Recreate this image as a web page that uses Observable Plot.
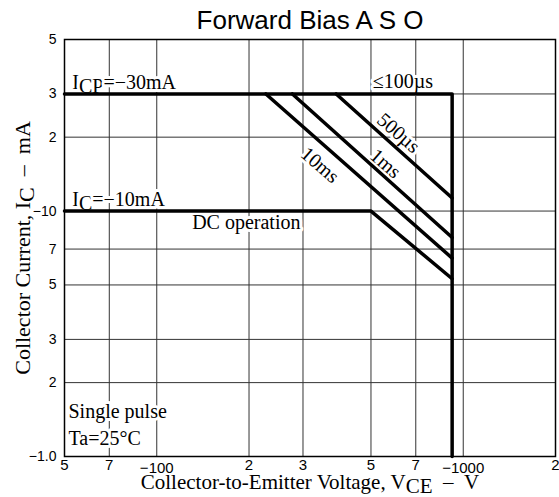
<!DOCTYPE html>
<html><head><meta charset="utf-8">
<script src="https://cdn.jsdelivr.net/npm/d3@7"></script>
<script src="https://cdn.jsdelivr.net/npm/@observablehq/plot@0.6"></script>
<style>body{margin:0;background:#fff}</style>
</head><body><div id="chart"></div>
<script>
// Axis ticks (V and mA magnitudes) and their printed labels
const xTicks = [50, 70, 100, 200, 300, 500, 700, 1000, 2000];
const xTickLabels = ["5", "7", "−100", "2", "3", "5", "7", "−1000", "2"];
const yTicks = [1, 2, 3, 5, 7, 10, 20, 30, 50];
const yTickLabels = ["−1.0", "2", "3", "5", "7", "−10", "2", "3", "5"];
const xGrid = [70, 100, 200, 300, 500, 700, 1000];
const yGrid = [2, 3, 5, 7, 10, 20, 30];

// Boundary curves: |VCE| (V) and |IC| (mA)
const voltsPulseLimit = [50, 920, 920];
const ampsPulseLimit = [30, 30, 1];
const voltsDC = [50, 500, 920];
const ampsDC = [10, 10, 5.3];
const volts10ms = [227, 920];
const amps10ms = [30, 6.43];
const volts1ms = [277, 920];
const amps1ms = [30, 7.8];
const volts500us = [385, 920];
const amps500us = [30, 11.3];

// Curve labels (text, V, mA)
const curveLabels = ["500µs", "1ms", "10ms"];
const curveLabelVolts = [615, 558, 341];
const curveLabelAmps = [20.8, 15.6, 15.4];

const toRows = (name, vs, as) => vs.map((v, i) => ({series: name, v, a: as[i]}));
const rows = [
  ...toRows("pulse", voltsPulseLimit, ampsPulseLimit),
  ...toRows("dc", voltsDC, ampsDC),
  ...toRows("10ms", volts10ms, amps10ms),
  ...toRows("1ms", volts1ms, amps1ms),
  ...toRows("500us", volts500us, amps500us)
];
const labelRows = curveLabels.map((t, i) => ({t, v: curveLabelVolts[i], a: curveLabelAmps[i]}));
const xLabelRows = xTicks.map((v, i) => ({v, t: xTickLabels[i], major: xTickLabels[i].startsWith("−")}));

const serif = "'Liberation Serif', 'Times New Roman', serif";
const sans = "'Liberation Sans', Arial, sans-serif";
const halo = {stroke: "white", strokeWidth: 6, paintOrder: "stroke", fill: "black"};

const chart = Plot.plot({
  width: 559, height: 497,
  marginLeft: 64, marginRight: 4, marginTop: 39, marginBottom: 41,
  x: {type: "log", domain: [50, 2000], axis: null},
  y: {type: "log", domain: [1, 50]},
  style: {fontFamily: sans, fontSize: "14px", background: "white", color: "black", overflow: "visible"},
  marks: [
    Plot.ruleX(xGrid, {stroke: "#333", strokeWidth: 1}),
    Plot.ruleY(yGrid, {stroke: "#333", strokeWidth: 1}),
    Plot.text(["I_{CP}=−30mA"], {x: 53, y: 30, textAnchor: "start", lineAnchor: "bottom", dy: -5, fontFamily: serif, fontSize: 20, ...halo}),
    Plot.text(["I_{C}=−10mA"], {x: 53, y: 10, textAnchor: "start", lineAnchor: "bottom", dy: -5, fontFamily: serif, fontSize: 20, ...halo}),
    Plot.text(["DC operation"], {x: 196, y: 10, textAnchor: "middle", lineAnchor: "top", dy: 4, fontFamily: serif, fontSize: 20, ...halo}),
    Plot.text(["≤100µs"], {x: 635, y: 30, textAnchor: "middle", lineAnchor: "bottom", dy: -6, fontFamily: serif, fontSize: 20, ...halo}),
    Plot.text(labelRows, {x: "v", y: "a", text: "t", rotate: 41, textAnchor: "middle", lineAnchor: "middle", fontFamily: serif, fontSize: 20, ...halo}),
    Plot.text(["Single pulse\nTa=25°C"], {frameAnchor: "bottom-left", dx: 4, dy: -12, textAnchor: "start", lineAnchor: "bottom", lineHeight: 1.35, fontFamily: serif, fontSize: 20, ...halo}),
    Plot.frame({stroke: "black", strokeWidth: 1.5}),
    Plot.line(rows, {x: "v", y: "a", z: "series", stroke: "black", strokeWidth: 3.5}),
    // x tick labels (the decade labels sit a little lower, as in the reference)
    Plot.text(xLabelRows, {filter: d => !d.major, x: "v", text: "t", frameAnchor: "bottom", lineAnchor: "top", dy: 3, fontFamily: sans, fontSize: 15, fill: "black"}),
    Plot.text(xLabelRows, {filter: d => d.major, x: "v", text: "t", frameAnchor: "bottom", lineAnchor: "top", dy: 6, fontFamily: sans, fontSize: 15, fill: "black"}),
    Plot.axisY({ticks: yTicks, tickFormat: d => yTickLabels[yTicks.indexOf(d)], tickSize: 0, tickPadding: 8, label: null, fontSize: 14, fill: "black"}),
    Plot.text(["Forward Bias A S O"], {frameAnchor: "top", dy: -19, lineAnchor: "middle", textAnchor: "middle", fontFamily: sans, fontSize: 26, fill: "black"}),
    Plot.text(["Collector-to-Emitter Voltage, V_{CE}\u00a0\u00a0–\u00a0\u00a0V"], {frameAnchor: "bottom", dy: 32, lineAnchor: "bottom", textAnchor: "middle", fontFamily: serif, fontSize: 21, fill: "black"}),
    Plot.text(["Collector Current, I_{C}\u00a0\u00a0–\u00a0\u00a0mA"], {frameAnchor: "left", dx: -35, rotate: -90, lineAnchor: "bottom", textAnchor: "middle", fontFamily: serif, fontSize: 22, fill: "black"})
  ]
});

// Render "_{...}" as subscripts using tspans
d3.select(chart).selectAll("text").each(function () {
  const t = this.textContent;
  if (!t.includes("_{")) return;
  const parts = t.split(/(_\{[^}]*\})/).filter(p => p);
  while (this.firstChild) this.removeChild(this.firstChild);
  let shifted = false;
  for (const p of parts) {
    const sp = document.createElementNS("http://www.w3.org/2000/svg", "tspan");
    if (p.startsWith("_{")) {
      sp.textContent = p.slice(2, -1);
      sp.setAttribute("dy", "0.2em");
      shifted = true;
    } else {
      sp.textContent = p;
      if (shifted) { sp.setAttribute("dy", "-0.2em"); shifted = false; }
    }
    this.appendChild(sp);
  }
});

document.getElementById("chart").appendChild(chart);
</script>
</body></html>
